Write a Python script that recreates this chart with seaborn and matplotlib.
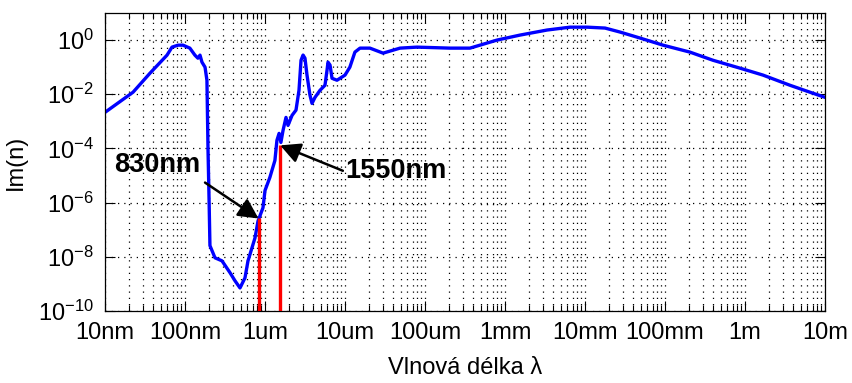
import numpy as np
import pandas as pd
import seaborn as sns
import matplotlib.pyplot as plt
from matplotlib.ticker import FixedLocator, NullLocator, LogLocator, LogFormatterSciNotation

# wavelength (m) and imaginary part of refractive index
wavelength = [
    1.0e-8, 2.24e-8, 3.65e-8, 5.96e-8, 6.88e-8, 8.18e-8, 9.44e-8, 1.15e-7,
    1.33e-7, 1.45e-7, 1.54e-7, 1.63e-7, 1.78e-7, 1.88e-7, 1.94e-7, 2.0e-7,
    2.05e-7, 2.37e-7, 2.9e-7, 3.65e-7, 4.22e-7, 4.87e-7, 5.62e-7, 6.13e-7,
    7.5e-7, 8.18e-7, 9.44e-7, 1.0e-6, 1.15e-6, 1.33e-6, 1.41e-6, 1.5e-6,
    1.58e-6, 1.68e-6, 1.83e-6, 1.94e-6, 2.18e-6, 2.44e-6, 2.66e-6, 2.82e-6,
    2.99e-6, 3.16e-6, 3.35e-6, 3.65e-6, 3.87e-6, 4.22e-6, 4.87e-6, 5.62e-6,
    5.96e-6, 6.13e-6, 6.5e-6, 6.88e-6, 7.94e-6, 1.0e-5, 1.15e-5, 1.33e-5,
    1.54e-5, 2.05e-5, 2.99e-5, 4.87e-5, 7.94e-5, 2.05e-4, 3.65e-4, 7.94e-4,
    1.54e-3, 3.35e-3, 6.5e-3, 1.06e-2, 1.78e-2, 2.74e-2, 4.87e-2, 9.44e-2,
    0.205, 0.398, 0.866, 1.68, 3.65, 6.5, 10.0,
]
im_n = [
    2.15e-3, 1.19e-2, 6.0e-2, 0.278, 0.55, 0.65, 0.65, 0.505,
    0.278, 0.215, 0.278, 0.153, 0.1, 3.3e-2, 8.5e-5, 1.2e-6,
    2.6e-8, 9.2e-9, 7.1e-9, 2.6e-9, 1.3e-9, 7.1e-10, 1.67e-9, 7.1e-9,
    5.0e-8, 2.1e-7, 6.5e-7, 2.8e-6, 8.5e-6, 3.6e-5, 2.0e-4, 3.6e-4,
    1.67e-4, 4.6e-4, 1.4e-3, 7.1e-4, 1.67e-3, 2.6e-3, 1.4e-2, 0.18,
    0.28, 0.215, 5.1e-2, 9.2e-3, 4.6e-3, 7.7e-3, 1.4e-2, 2.15e-2,
    7.7e-2, 0.153, 0.12, 3.9e-2, 3.3e-2, 5.1e-2, 0.1, 0.36,
    0.505, 0.505, 0.33, 0.505, 0.55, 0.505, 0.505, 1.0,
    1.53, 2.35, 3.0, 3.0, 2.78, 1.98, 1.19, 0.65,
    0.36, 0.18, 9.2e-2, 5.1e-2, 2.15e-2, 1.19e-2, 7.7e-3,
]

# marked wavelengths (red lines)
marker_labels = ["830nm", "1550nm"]
marker_wl = [830e-9, 1550e-9]
marker_k = [2.6e-7, 1.3e-4]
# where the annotation texts / arrow tails sit
label_pos = [(1.54e-7, 2.35e-5), (1.0e-5, 1.5e-5)]
label_ha = ["right", "left"]
arrow_tail = [(1.78e-7, 5.5e-6), (9.4e-6, 1.5e-5)]

xticks = [1e-8, 1e-7, 1e-6, 1e-5, 1e-4, 1e-3, 1e-2, 1e-1, 1e0, 1e1]
xticklabels = ["10nm", "100nm", "1um", "10um", "100um", "1mm", "10mm", "100mm", "1m", "10m"]
yticks = [1e-10, 1e-8, 1e-6, 1e-4, 1e-2, 1e0]

sns.set_theme(style="ticks")
plt.rcParams["font.family"] = ["Liberation Sans", "DejaVu Sans"]
plt.rcParams["mathtext.fontset"] = "custom"
plt.rcParams["mathtext.rm"] = "Liberation Sans"
plt.rcParams["mathtext.it"] = "Liberation Sans"
plt.rcParams["mathtext.bf"] = "Liberation Sans:bold"

fig = plt.figure(figsize=(8.52, 3.83), dpi=100)
ax = fig.add_axes([105 / 852, 1 - 311 / 383, 720 / 852, 298 / 383])
ax.set_xscale("log")
ax.set_yscale("log")

df = pd.DataFrame({"wl": wavelength, "k": im_n})
sns.lineplot(data=df, x="wl", y="k", color="#0000FF", lw=2.4,
             estimator=None, sort=False, ax=ax)

# red marker lines from the bottom up to the curve
ax.vlines(marker_wl, 1e-10, marker_k, color="#FF0000", lw=2.4, zorder=3)

for lab, (tx, ty), ha, (ax0, ay0), wl, k in zip(
    marker_labels, label_pos, label_ha, arrow_tail, marker_wl, marker_k
):
    ax.annotate("", xy=(wl, k), xytext=(ax0, ay0),
                arrowprops=dict(arrowstyle="-|>,head_length=0.55,head_width=0.28",
                                color="black", lw=1.8,
                                mutation_scale=22, shrinkA=0, shrinkB=0),
                zorder=5)
    ax.text(tx, ty, lab, ha=ha, va="center", fontsize=19.5,
            fontweight="bold", color="black", zorder=6)

ax.set_xlim(1e-8, 1e1)
ax.set_ylim(1e-10, 1e1)

ax.xaxis.set_major_locator(FixedLocator(xticks))
ax.set_xticklabels(xticklabels)
ax.xaxis.set_minor_locator(LogLocator(base=10, subs=np.arange(2, 10), numticks=20))
ax.yaxis.set_major_locator(FixedLocator(yticks))
ax.yaxis.set_major_formatter(LogFormatterSciNotation())
ax.yaxis.set_minor_locator(NullLocator())

dots = (0, (1, 4))
ax.grid(True, which="major", axis="both", color="black", linestyle=dots, lw=0.9)
ax.grid(True, which="minor", axis="x", color="black", linestyle=dots, lw=0.9)

ax.tick_params(which="both", direction="in", top=True, right=True,
               colors="black", labelsize=17)
ax.tick_params(which="major", length=7, width=0.8, pad=8)
ax.tick_params(which="minor", length=4, width=0.8)
for s in ax.spines.values():
    s.set_color("black")
    s.set_linewidth(0.9)

ax.set_xlabel("Vlnová délka λ", fontsize=17, labelpad=9, color="black")
ax.set_ylabel("Im(n)", fontsize=17, labelpad=8, color="black")
ax.set_facecolor("white")

fig.savefig("out.png", dpi=100, facecolor="white")
